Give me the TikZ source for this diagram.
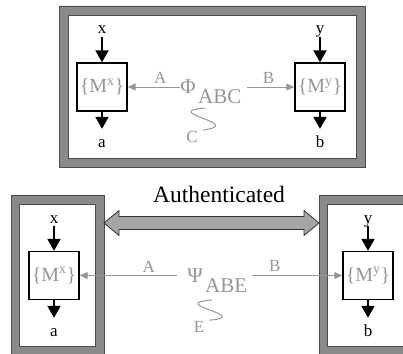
\documentclass[tikz,border=0pt]{standalone}
\usepackage{fontspec}
\setmainfont{Liberation Serif}
\usetikzlibrary{arrows.meta}
\definecolor{fgray}{RGB}{138,138,138}
\definecolor{tgray}{RGB}{150,150,150}
\definecolor{agray}{RGB}{165,165,165}
\tikzset{
  % Gray frame round a party
  Frame/.style={fill=fgray,draw=black!70,line width=0.6pt,even odd rule},
  % Black box holding the messages
  MB/.style={rectangle,draw=black,fill=white,line width=1.4pt,
             minimum width=50pt,minimum height=48pt,inner sep=0pt,
             text=tgray,font=\fontsize{20}{20}\selectfont},
  % Black input / output letters
  IO/.style={font=\fontsize{17}{17}\selectfont,inner sep=3pt,
             text height=8pt,text depth=0pt,anchor=base},
  % Gray letters
  GL/.style={text=tgray,font=\fontsize{17}{17}\selectfont,inner sep=3pt},
  % Gray state symbol
  ST/.style={text=tgray,font=\fontsize{21}{21}\selectfont,inner sep=0pt},
  % Authenticated double arrow
  DArr/.style={draw=black!80,fill=agray,line width=0.8pt,line join=miter},
  % Arrows
  Arr/.style ={-{Triangle[length=12pt,width=13pt]},line width=2pt},
  GArr/.style={-{Triangle[length=8pt,width=7pt]},line width=1pt,color=tgray},
  GLine/.style={line width=1pt,color=tgray},
}
\begin{document}
\begin{tikzpicture}[x=1pt,y=-1pt]
  \useasboundingbox (0,0) rectangle (403,353);
  % top: one party holding both ends
  \filldraw[Frame] (59,6) rectangle (365,167) (68,15) rectangle (356.5,158);
  \node[MB] (mx1) at (102,87) {\{M\textsuperscript{x}\}};
  \node[MB] (my1) at (320,87) {\{M\textsuperscript{y}\}};
  \node[IO] (xin1)  at (102,34)  {x};
  \node[IO] (aout1) at (102,147) {a};
  \node[IO] (yin1)  at (320,34)  {y};
  \node[IO] (bout1) at (320,147) {b};
  \draw[Arr] (xin1) -- (mx1);
  \draw[Arr,shorten >=7pt] (mx1) -- (aout1);
  \draw[Arr] (yin1) -- (my1);
  \draw[Arr,shorten >=7pt] (my1) -- (bout1);
  \node[ST] (phi1) at (188,87) {Φ};
  \node[ST,anchor=base west,inner xsep=5pt] (abc1) at (193,103) {ABC};
  \draw[GArr] (phi1) -- node[GL,above,pos=0.38] {A} (mx1);
  \draw[GArr] (abc1.east |- phi1) -- node[GL,above,pos=0.46] {B} (my1);
  \node[GL,inner sep=1pt] (lc1) at (192,137) {C};
  \coordinate (sq1) at (205,108);
  \draw[GLine] (sq1) .. controls (158,112) and (247,124) .. ([xshift=4pt]lc1.north east);

  % bottom: two parties joined by an authenticated channel
  \filldraw[Frame] (11,195) rectangle (104,356) (19.5,204) rectangle (95.5,346);
  \filldraw[Frame] (319,195) rectangle (412,356) (327.5,204) rectangle (403.5,346);
  \coordinate (al) at (104,223);
  \coordinate (ar) at (319,223);
  \filldraw[DArr] (al) -- ++(15,-12.5) -- ++(0,6) -- ++(185,0) -- ++(0,-6)
    -- (ar) -- ++(-15,12.5) -- ++(0,-6) -- ++(-185,0) -- ++(0,6) -- cycle;
  \node[font=\fontsize{23.5}{23.5}\selectfont,anchor=base] (authtxt) at (219,202.5) {Authenticated};
  \node[MB] (mx2) at (54,275.5) {\{M\textsuperscript{x}\}};
  \node[MB] (my2) at (368,275.5) {\{M\textsuperscript{y}\}};
  \node[IO] (xin2)  at (54,223)  {x};
  \node[IO] (aout2) at (54,336)  {a};
  \node[IO] (yin2)  at (368,223) {y};
  \node[IO] (bout2) at (368,336) {b};
  \draw[Arr] (xin2) -- (mx2);
  \draw[Arr,shorten >=7pt] (mx2) -- (aout2);
  \draw[Arr] (yin2) -- (my2);
  \draw[Arr,shorten >=7pt] (my2) -- (bout2);
  \node[ST] (psi2) at (195,275.5) {Ψ};
  \node[ST,anchor=base west,inner xsep=5pt] (abe2) at (200,292) {ABE};
  \draw[GArr] (psi2.west) ++(-10,0) coordinate (pa2) (pa2) -- node[GL,above,pos=0.29] {A} (mx2);
  \draw[GArr] (abe2.east |- psi2) -- node[GL,above,pos=0.25] {B} (my2);
  \node[GL,inner sep=1pt] (le2) at (199,327) {E};
  \coordinate (sq2) at (212,300);
  \draw[GLine] (sq2) .. controls (165,304) and (254,316) .. ([xshift=4pt]le2.north east);
\end{tikzpicture}
\end{document}
